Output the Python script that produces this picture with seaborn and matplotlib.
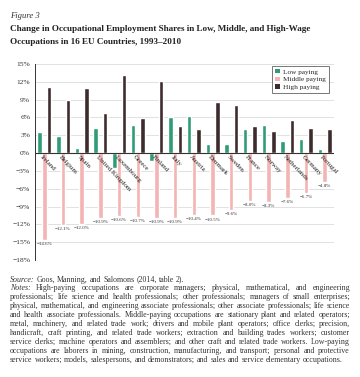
import numpy as np
import pandas as pd
import matplotlib
matplotlib.use("Agg")
import matplotlib.pyplot as plt
import seaborn as sns
from matplotlib.patches import Patch

countries = ["Ireland", "Belgium", "Spain", "United Kingdom", "Luxembourg", "Greece",
             "Finland", "Italy", "Austria", "Denmark", "Sweden", "France", "Norway",
             "Netherlands", "Germany", "Portugal"]
low_paying = [3.6, 2.9, 0.9, 4.2, -2.5, 4.8, -1.4, 6.1, 6.3, 1.6, 1.5, 4.1, 4.7, 2.0, 2.3, 0.7]
middle_paying = [-14.6, -12.1, -12.0, -10.9, -10.6, -10.7, -10.9, -10.9, -10.4, -10.5,
                 -9.6, -8.0, -8.3, -7.6, -6.7, -4.8]
high_paying = [11.2, 9.0, 10.9, 6.8, 13.2, 5.9, 12.2, 4.6, 4.1, 8.6, 8.1, 4.5, 3.8, 5.6, 4.3, 4.1]
groups = ["Low paying", "Middle paying", "High paying"]
yticks = [15, 12, 9, 6, 3, 0, -3, -6, -9, -12, -15, -18]

colors = ["#2f9c76", "#f3b4b3", "#3d2b2d"]

df = pd.DataFrame({
    "country": countries * 3,
    "group": [groups[0]] * 16 + [groups[1]] * 16 + [groups[2]] * 16,
    "value": low_paying + middle_paying + high_paying,
})

sns.set_style("white")
plt.rcParams["font.family"] = ["Liberation Serif", "DejaVu Serif"]
plt.rcParams["axes.unicode_minus"] = True

W, H = 360, 377
fig = plt.figure(figsize=(3.6, 3.77), dpi=100)
ax = fig.add_axes([35 / W, 1 - 260 / H, (334 - 35) / W, (260 - 64) / H])

sns.barplot(data=df, x="country", y="value", hue="group", hue_order=groups,
            order=countries, palette=colors, width=0.76, gap=0.05, ax=ax,
            legend=False, saturation=1, errorbar=None)

ax.set_ylim(-18, 15)
ax.set_xlim(-0.5, 15.5)
ax.set_yticks(yticks)
ax.set_yticklabels([f"{t}%".replace("-", "\u2212") for t in yticks], fontsize=5.4, color="#333333")
ax.set_xticks([])
ax.set_xlabel("")
ax.set_ylabel("")
ax.tick_params(axis="y", length=2, width=0.6, color="#333333", pad=1.5)
for s in ["top", "right", "bottom"]:
    ax.spines[s].set_visible(False)
ax.spines["left"].set_color("#333333")
ax.spines["left"].set_linewidth(0.7)
for t in yticks:
    if t != 0:
        ax.axhline(t, color="#dcdcdc", lw=0.6, zorder=0)
ax.axhline(0, color="#333333", lw=0.8, zorder=3)

# country labels
for i, c in enumerate(countries):
    ax.text(i - 0.1, -0.25, c, rotation=-46, rotation_mode="anchor", ha="left", va="top",
            fontsize=5.0, color="#222222", zorder=5)

# middle value labels
for i, v in enumerate(middle_paying):
    ax.annotate(f"{v:.1f}%".replace("-", "\u2212"), (i, v), xytext=(0, -1.5),
                textcoords="offset points", ha="center", va="top", fontsize=3.6,
                color="#333333")

handles = [Patch(facecolor=c, edgecolor="none") for c in colors]
leg = ax.legend(handles, groups, loc="upper right", bbox_to_anchor=(329 / W, 1 - 66 / H),
                bbox_transform=fig.transFigure, fontsize=5.2, frameon=True, fancybox=False,
                handlelength=0.6, handleheight=0.6, handletextpad=0.5, borderpad=0.4,
                labelspacing=0.25, borderaxespad=0)
leg.get_frame().set_edgecolor("#555555")
leg.get_frame().set_linewidth(0.7)

# titles
fig.text(10 / W, 1 - 16 / H, "Figure 3", fontsize=6.2, style="italic", va="center", color="#333333")
fig.text(10 / W, 1 - 29 / H, "Change in Occupational Employment Shares in Low, Middle, and High-Wage",
         fontsize=6.6, weight="bold", va="center", color="#222222")
fig.text(10 / W, 1 - 42.5 / H, "Occupations in 16 EU Countries, 1993\u20132010",
         fontsize=6.6, weight="bold", va="center", color="#222222")

# notes with justification
renderer = fig.canvas.get_renderer()
FS = 5.7


def width_of(txt, style="normal"):
    t = fig.text(0, 0, txt, fontsize=FS, style=style)
    w = t.get_window_extent(renderer).width
    t.remove()
    return w


def place_line(y, words, justify=True, x0=10, x1=350):
    widths = [width_of(w, s) for w, s in words]
    if justify and len(words) > 1:
        gap = (x1 - x0 - sum(widths)) / (len(words) - 1)
    else:
        gap = width_of("n") * 0.5
    x = x0
    for (w, s), wd in zip(words, widths):
        fig.text(x / W, 1 - y / H, w, fontsize=FS, style=s, va="center", color="#333333")
        x += wd + gap


source_line = [("Source:", "italic")] + [(w, "normal") for w in "Goos, Manning, and Salomons (2014, table 2).".split()]
place_line(279.5, source_line, justify=False)

note_lines = [
    "Notes: High-paying occupations are corporate managers; physical, mathematical, and engineering",
    "professionals; life science and health professionals; other professionals; managers of small enterprises;",
    "physical, mathematical, and engineering associate professionals; other associate professionals; life science",
    "and health associate professionals. Middle-paying occupations are stationary plant and related operators;",
    "metal, machinery, and related trade work; drivers and mobile plant operators; office clerks; precision,",
    "handicraft, craft printing, and related trade workers; extraction and building trades workers; customer",
    "service clerks; machine operators and assemblers; and other craft and related trade workers. Low-paying",
    "occupations are laborers in mining, construction, manufacturing, and transport; personal and protective",
    "service workers; models, salespersons, and demonstrators; and sales and service elementary occupations.",
]
for k, line in enumerate(note_lines):
    ws = line.split()
    words = [(w, "italic" if (k == 0 and j == 0) else "normal") for j, w in enumerate(ws)]
    place_line(288.3 + 9.0 * k, words, justify=(k < len(note_lines) - 1))

fig.savefig("out.png", dpi=100)
